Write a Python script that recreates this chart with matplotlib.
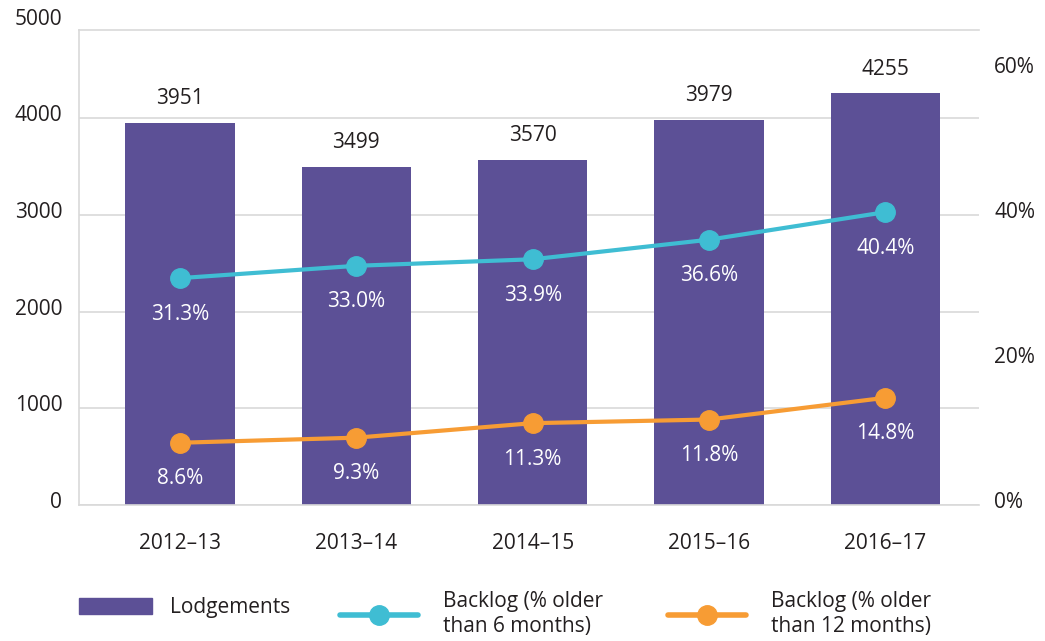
import numpy as np
import matplotlib.pyplot as plt
import matplotlib.transforms as mtransforms
from matplotlib.lines import Line2D
from matplotlib.patches import Patch

# data
years = ["2012–13", "2013–14", "2014–15", "2015–16", "2016–17"]
lodgements = [3951, 3499, 3570, 3979, 4255]
backlog_6m = [31.3, 33.0, 33.9, 36.6, 40.4]
backlog_12m = [8.6, 9.3, 11.3, 11.8, 14.8]

purple = "#5c5096"
cyan = "#3fbdd3"
orange = "#f79c34"
text_col = "#231f20"
grid_col = "#d9d9d9"
fs = 15

plt.rcParams["font.family"] = ["Open Sans", "DejaVu Sans"]
plt.rcParams["font.size"] = fs

fig = plt.figure(figsize=(10.45, 6.41), dpi=100)
ax = fig.add_axes([0.0756, 0.212, 0.861, 0.741])
x = np.arange(len(years))

ax.bar(x, lodgements, width=0.62, color=purple, zorder=2)
for xi, v in zip(x, lodgements):
    ax.annotate(str(v), (xi, v), xytext=(0, 10), textcoords="offset points",
                ha="center", va="bottom", color=text_col)

# the frame top sits just under 5000; the 5000 label is placed above it
ax.set_ylim(0, 4910)
ax.set_xlim(-0.573, 4.53)
ax.set_yticks(range(0, 4001, 1000))
ax.set_xticks(x, years)
ax.yaxis.grid(True, color=grid_col, linewidth=1.2, zorder=0)
ax.set_axisbelow(True)
ax.tick_params(axis="y", length=0, pad=12, labelcolor=text_col)
ax.tick_params(axis="x", length=0, pad=20, labelcolor=text_col)
ax.spines["right"].set_visible(False)
for s in ["left", "bottom", "top"]:
    ax.spines[s].set_color(grid_col)
    ax.spines[s].set_linewidth(1.2)
ax.text(-17 / 900, 1.0, "5000", transform=ax.transAxes, ha="right",
        va="bottom", color=text_col)

ax2 = ax.twinx()
ax2.set_ylim(0, 65.5)
ax2.set_yticks([0, 20, 40, 60], ["0%", "20%", "40%", "60%"])
ax2.tick_params(axis="y", length=0, pad=11, labelcolor=text_col)
for s in ax2.spines.values():
    s.set_visible(False)

# y labels sit a little above their gridlines
lift = mtransforms.ScaledTranslation(0, 5 / 100, fig.dpi_scale_trans)
for lab in ax.get_yticklabels() + ax2.get_yticklabels():
    lab.set_transform(lab.get_transform() + lift)

for vals, col in [(backlog_6m, cyan), (backlog_12m, orange)]:
    ax2.plot(x, vals, color=col, linewidth=3, marker="o", markersize=14,
             solid_capstyle="round", zorder=3)
    for xi, v in zip(x, vals):
        ax2.annotate(f"{v:.1f}%", (xi, v), xytext=(0, -26), textcoords="offset points",
                     ha="center", va="center", color="white")

# legend: three single-entry legends so each handle gets its own length
H = 641
entries = [
    (Patch(color=purple), "Lodgements", 79, 3.5, 0.82, 0.85, 608),
    (Line2D([], [], color=cyan, linewidth=4, marker="o", markersize=14,
            solid_capstyle="round"), "Backlog (% older\nthan 6 months)",
     340, 3.75, 0.7, 1.2, 614),
    (Line2D([], [], color=orange, linewidth=4, marker="o", markersize=14,
            solid_capstyle="round"), "Backlog (% older\nthan 12 months)",
     668, 3.75, 0.7, 1.2, 614),
]
for handle, label, x0, hl, hh, tp, yc in entries:
    fig.legend([handle], [label], loc="center left",
               bbox_to_anchor=(x0 / 1045, 1 - yc / H), frameon=False,
               borderpad=0, borderaxespad=0, handlelength=hl, handleheight=hh,
               handletextpad=tp, labelcolor=text_col, fontsize=fs)

fig.savefig("out.png", dpi=100)
